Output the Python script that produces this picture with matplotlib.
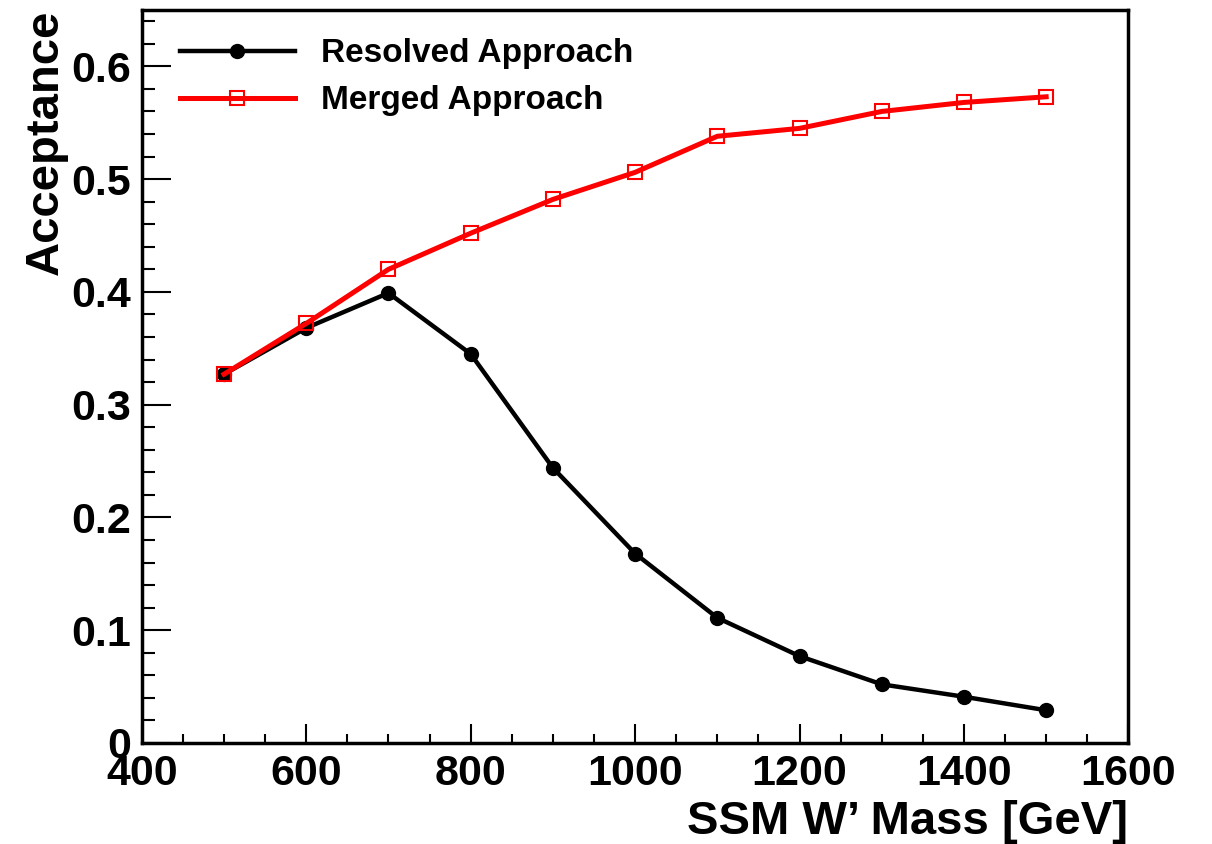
import matplotlib.pyplot as plt
from matplotlib.ticker import MultipleLocator

plt.rcParams['font.family'] = ['Liberation Sans', 'DejaVu Sans']
plt.rcParams['font.weight'] = 'bold'

# W' mass points (GeV) and acceptance for each approach
mass = [500, 600, 700, 800, 900, 1000, 1100, 1200, 1300, 1400, 1500]
resolved = [0.327, 0.368, 0.399, 0.345, 0.244, 0.168, 0.111, 0.077, 0.052, 0.041, 0.029]
merged = [0.327, 0.372, 0.420, 0.452, 0.482, 0.506, 0.538, 0.545, 0.560, 0.568, 0.573]

fig = plt.figure(figsize=(12.12, 8.44), dpi=100)
ax = fig.add_axes([0.117, 0.1197, 0.814, 0.8685])

ax.plot(mass, resolved, color='black', lw=3.2, marker='o', markersize=10,
        label='Resolved Approach')
ax.plot(mass, merged, color='red', lw=3.6, marker='s', markersize=10,
        markerfacecolor='none', markeredgecolor='red', markeredgewidth=1.5,
        label='Merged Approach')

ax.set_xlim(400, 1600)
ax.set_ylim(0, 0.65)

# ROOT-like frame and inward ticks on left/bottom only
for s in ax.spines.values():
    s.set_linewidth(2.5)
ax.xaxis.set_major_locator(MultipleLocator(200))
ax.xaxis.set_minor_locator(MultipleLocator(50))
ax.yaxis.set_major_locator(MultipleLocator(0.1))
ax.yaxis.set_minor_locator(MultipleLocator(0.02))
ax.tick_params(axis='both', which='both', direction='in', top=False, right=False,
               width=1.5, labelsize=31)
ax.tick_params(axis='x', which='major', length=14, pad=8)
ax.tick_params(axis='x', which='minor', length=6.5)
ax.tick_params(axis='y', which='major', length=21, pad=8)
ax.tick_params(axis='y', which='minor', length=9)
ax.set_yticks([0, 0.1, 0.2, 0.3, 0.4, 0.5, 0.6])
ax.set_yticklabels(['0', '0.1', '0.2', '0.3', '0.4', '0.5', '0.6'])
for lab in ax.get_xticklabels() + ax.get_yticklabels():
    lab.set_fontweight('bold')

ax.set_xlabel("SSM W’ Mass [GeV]", fontsize=34, fontweight='bold', loc='right', labelpad=4)
ax.set_ylabel('Acceptance', fontsize=34, fontweight='bold', loc='top', labelpad=2)

leg = ax.legend(loc='upper left', bbox_to_anchor=(0.008, 1.002), frameon=False,
                fontsize=24, handlelength=3.45, handletextpad=0.8, labelspacing=0.48,
                markerscale=1.0)
for t in leg.get_texts():
    t.set_fontweight('bold')

fig.savefig('out.png', dpi=100)
